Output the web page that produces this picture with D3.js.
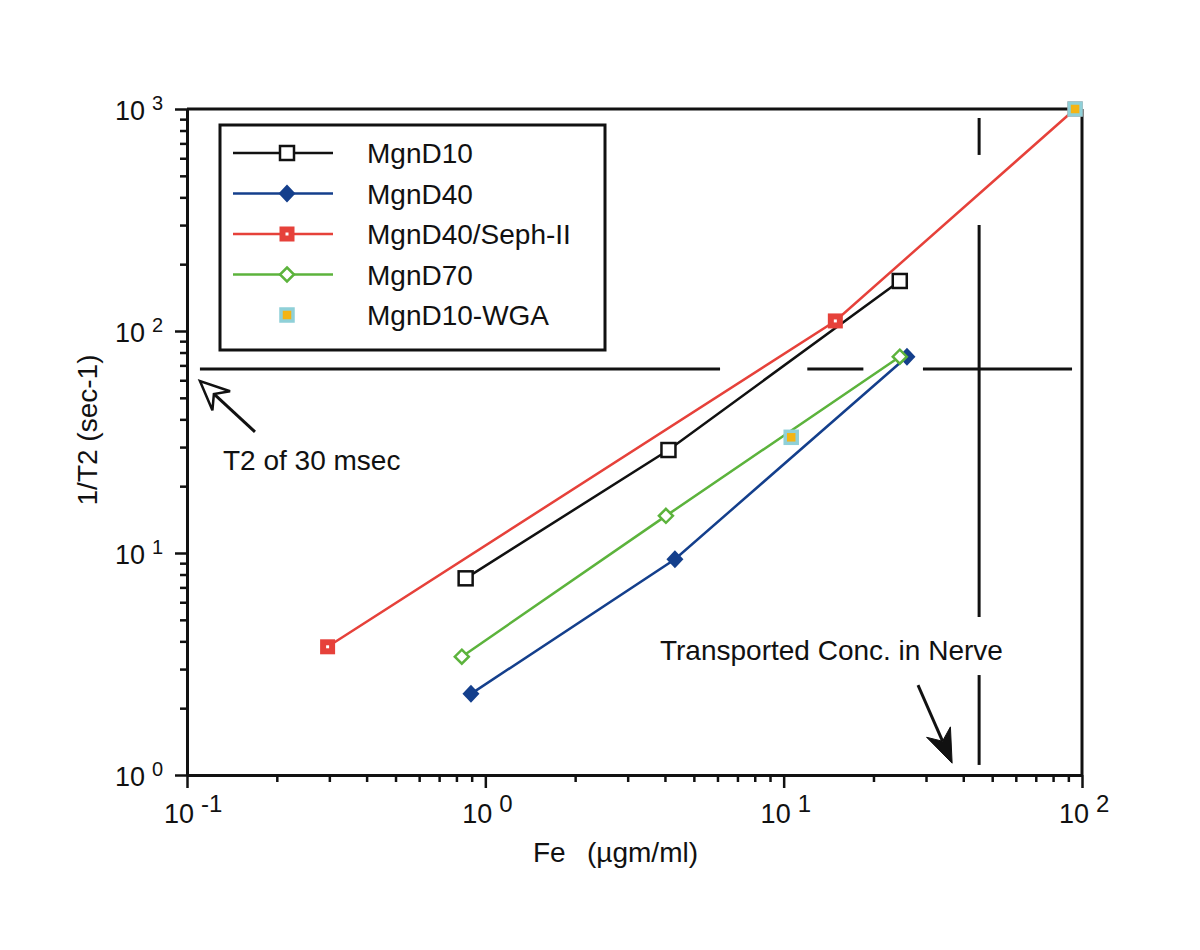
<!DOCTYPE html>
<html><head><meta charset="utf-8">
<script src="https://cdn.jsdelivr.net/npm/d3@7"></script>
<style>
body{margin:0;background:#fff}
text{font-family:"Liberation Sans",Arial,Helvetica,sans-serif;fill:#111}
</style>
</head><body>
<svg id="chart" width="1200" height="950"></svg>
<script>
// ---------------- data ----------------
const seriesNames = ["MgnD10", "MgnD40", "MgnD40/Seph-II", "MgnD70", "MgnD10-WGA"];
const mgnD10X = [0.859, 4.11, 24.5];
const mgnD10Y = [7.69, 29.1, 168];
const mgnD40X = [0.895, 4.32, 25.9];
const mgnD40Y = [2.32, 9.37, 76.6];
const sephX   = [0.296, 14.9, 94.8];
const sephY   = [3.78, 111, 1000];
const mgnD70X = [0.834, 4.03, 24.5];
const mgnD70Y = [3.41, 14.7, 76.6];
const wgaX    = [10.6, 94.8];
const wgaY    = [33.2, 1000];

const xTickExps = [-1, 0, 1, 2];
const yTickExps = [0, 1, 2, 3];

const t2Level = 67.4;                          // horizontal reference (1/T2)
const t2Segments = [[0.1105, 6.12], [12.0, 18.5], [29.3, 92.6]];
const nerveConc = 45.2;                        // vertical reference (Fe)
const nerveSegments = [[911, 621], [300, 5.15], [2.82, 1.11]];

const t2ArrowTip = [0.1105, 59.5], t2ArrowTail = [0.169, 35.1];
const nerveArrowTip = [36.7, 1.13], nerveArrowTail = [28.2, 2.54];
const t2Label = "T2 of 30 msec", t2LabelPos = [0.132, 23.6];
const nerveLabel = "Transported Conc. in Nerve", nerveLabelPos = [3.85, 3.30];

const xTitle = ["Fe", "(\u00b5gm/ml)"];
const yTitle = "1/T2 (sec-1)";

// ---------------- setup ----------------
const svg = d3.select("#chart");
const x = d3.scaleLog().domain([0.1, 100]).range([187, 1082]);
const y = d3.scaleLog().domain([1, 1000]).range([775, 109]);

const colors = {
  black: "#111111", blue: "#143f8c", red: "#e6413a", green: "#5cb33c",
  cyan: "#8fd0d8", orange: "#f4b414"
};

function minorTicks(domain) {
  const out = [];
  for (let e = Math.log10(domain[0]); e < Math.log10(domain[1]); e++)
    for (let m = 2; m <= 9; m++) out.push(m * Math.pow(10, e));
  return out;
}
const xMajor = xTickExps.map(e => Math.pow(10, e));
const yMajor = yTickExps.map(e => Math.pow(10, e));

// ---------------- axes ----------------
const gx = svg.append("g").attr("transform", `translate(0,${y(1)})`);
gx.call(d3.axisBottom(x).tickValues(minorTicks(x.domain())).tickSize(7).tickSizeOuter(0).tickFormat(""));
gx.append("g").call(d3.axisBottom(x).tickValues(xMajor).tickSize(13).tickSizeOuter(0).tickFormat(""));
gx.selectAll(".domain").attr("stroke", "#111").attr("stroke-width", 3);
gx.selectAll(".tick line").attr("stroke", "#111").attr("stroke-width", 2.5);

const gy = svg.append("g").attr("transform", `translate(${x(0.1)},0)`);
gy.call(d3.axisLeft(y).tickValues(minorTicks(y.domain())).tickSize(7).tickSizeOuter(0).tickFormat(""));
gy.append("g").call(d3.axisLeft(y).tickValues(yMajor).tickSize(12).tickSizeOuter(0).tickFormat(""));
gy.selectAll(".domain").attr("stroke", "#111").attr("stroke-width", 3);
gy.selectAll(".tick line").attr("stroke", "#111").attr("stroke-width", 2.5);

// frame top & right
svg.append("line").attr("x1", x(0.1)).attr("x2", x(100)).attr("y1", y(1000)).attr("y2", y(1000))
  .attr("stroke", "#111").attr("stroke-width", 3);
svg.append("line").attr("x1", x(100)).attr("x2", x(100)).attr("y1", y(1000)).attr("y2", y(1))
  .attr("stroke", "#111").attr("stroke-width", 3);

// tick labels
xTickExps.forEach(e => {
  const px = x(Math.pow(10, e));
  svg.append("text").attr("font-size", 27).attr("x", px + 7).attr("y", y(1) + 48)
    .attr("text-anchor", "end").text("10");
  svg.append("text").attr("font-size", 24).attr("x", px + 14).attr("y", y(1) + 37).text(String(e));
});
yTickExps.forEach(e => {
  const py = y(Math.pow(10, e));
  svg.append("text").attr("font-size", 27).attr("x", 145).attr("y", py + 11)
    .attr("text-anchor", "end").text("10");
  svg.append("text").attr("font-size", 20).attr("x", 152).attr("y", py + 1).text(String(e));
});

// axis titles
svg.append("text").attr("font-size", 28).attr("x", 533).attr("y", 862).text(xTitle[0]);
svg.append("text").attr("font-size", 28).attr("x", 587).attr("y", 862).text(xTitle[1]);
svg.append("text").attr("font-size", 28).attr("text-anchor", "middle")
  .attr("transform", `translate(97,430) rotate(-90)`).text(yTitle);

// ---------------- reference lines ----------------
t2Segments.forEach(s => {
  svg.append("line").attr("x1", x(s[0])).attr("x2", x(s[1])).attr("y1", y(t2Level)).attr("y2", y(t2Level))
    .attr("stroke", "#111").attr("stroke-width", 3);
});
nerveSegments.forEach(s => {
  svg.append("line").attr("x1", x(nerveConc)).attr("x2", x(nerveConc)).attr("y1", y(s[0])).attr("y2", y(s[1]))
    .attr("stroke", "#111").attr("stroke-width", 3);
});

// ---------------- annotations ----------------
function arrow(tip, tail, len, half, notch, filled) {
  const tx = x(tip[0]), ty = y(tip[1]), bx = x(tail[0]), by = y(tail[1]);
  const dx = bx - tx, dy = by - ty, L = Math.hypot(dx, dy);
  const ux = dx / L, uy = dy / L, px = -uy, py = ux;
  const w1 = [tx + ux * len + px * half, ty + uy * len + py * half];
  const w2 = [tx + ux * len - px * half, ty + uy * len - py * half];
  const n = [tx + ux * notch, ty + uy * notch];
  svg.append("line").attr("x1", n[0]).attr("y1", n[1]).attr("x2", bx).attr("y2", by)
    .attr("stroke", "#111").attr("stroke-width", 3);
  svg.append("path").attr("d", `M${tx},${ty}L${w1[0]},${w1[1]}L${n[0]},${n[1]}L${w2[0]},${w2[1]}Z`)
    .attr("fill", filled ? "#111" : "#fff").attr("stroke", "#111").attr("stroke-width", filled ? 1 : 2.5)
    .attr("stroke-linejoin", "miter");
}
arrow(t2ArrowTip, t2ArrowTail, 29, 13, 19, false);
arrow(nerveArrowTip, nerveArrowTail, 34, 13, 24, true);

svg.append("text").attr("font-size", 28).attr("x", x(t2LabelPos[0])).attr("y", y(t2LabelPos[1])).text(t2Label);
svg.append("text").attr("font-size", 28).attr("x", x(nerveLabelPos[0])).attr("y", y(nerveLabelPos[1])).text(nerveLabel);

// ---------------- markers ----------------
function drawMarker(g, type, cx, cy) {
  if (type === "openSquare") {
    g.append("rect").attr("x", cx - 7).attr("y", cy - 7).attr("width", 14).attr("height", 14)
      .attr("fill", "#fff").attr("stroke", colors.black).attr("stroke-width", 2.5);
  } else if (type === "diamond") {
    g.append("path").attr("d", `M${cx},${cy - 9}L${cx + 8.5},${cy}L${cx},${cy + 9}L${cx - 8.5},${cy}Z`)
      .attr("fill", colors.blue);
  } else if (type === "redSquare") {
    g.append("rect").attr("x", cx - 7.5).attr("y", cy - 7.5).attr("width", 15).attr("height", 15).attr("fill", colors.red);
    g.append("rect").attr("x", cx - 1.5).attr("y", cy - 1.5).attr("width", 3).attr("height", 3).attr("fill", "#fff");
  } else if (type === "openDiamond") {
    g.append("path").attr("d", `M${cx},${cy - 7}L${cx + 7},${cy}L${cx},${cy + 7}L${cx - 7},${cy}Z`)
      .attr("fill", "#fff").attr("stroke", colors.green).attr("stroke-width", 2.5);
  } else if (type === "wga") {
    g.append("rect").attr("x", cx - 6).attr("y", cy - 6).attr("width", 12).attr("height", 12)
      .attr("fill", colors.orange).attr("stroke", colors.cyan).attr("stroke-width", 3.5);
  }
}

const series = [
  { name: seriesNames[0], xs: mgnD10X, ys: mgnD10Y, color: colors.black, marker: "openSquare", line: true },
  { name: seriesNames[1], xs: mgnD40X, ys: mgnD40Y, color: colors.blue, marker: "diamond", line: true },
  { name: seriesNames[2], xs: sephX, ys: sephY, color: colors.red, marker: "redSquare", line: true },
  { name: seriesNames[3], xs: mgnD70X, ys: mgnD70Y, color: colors.green, marker: "openDiamond", line: true },
  { name: seriesNames[4], xs: wgaX, ys: wgaY, color: colors.cyan, marker: "wga", line: false }
];

const lineGen = d3.line().x(d => x(d[0])).y(d => y(d[1]));
series.filter(s => s.line).forEach(s => {
  svg.append("path").datum(s.xs.map((v, i) => [v, s.ys[i]])).attr("d", lineGen)
    .attr("fill", "none").attr("stroke", s.color).attr("stroke-width", 2.5);
});
const gm = svg.append("g");
series.forEach(s => s.xs.forEach((v, i) => drawMarker(gm, s.marker, x(v), y(s.ys[i]))));

// ---------------- legend ----------------
const leg = svg.append("g");
leg.append("rect").attr("x", 220).attr("y", 125).attr("width", 385).attr("height", 225)
  .attr("fill", "#fff").attr("stroke", "#111").attr("stroke-width", 3);
series.forEach((s, i) => {
  const ly = 153 + i * 40.5;
  if (s.line) leg.append("line").attr("x1", 233).attr("x2", 333).attr("y1", ly).attr("y2", ly)
    .attr("stroke", s.color).attr("stroke-width", 2.5);
  drawMarker(leg, s.marker, 287, ly);
  leg.append("text").attr("font-size", 28).attr("x", 367).attr("y", ly + 10).text(s.name);
});
</script>
</body></html>
